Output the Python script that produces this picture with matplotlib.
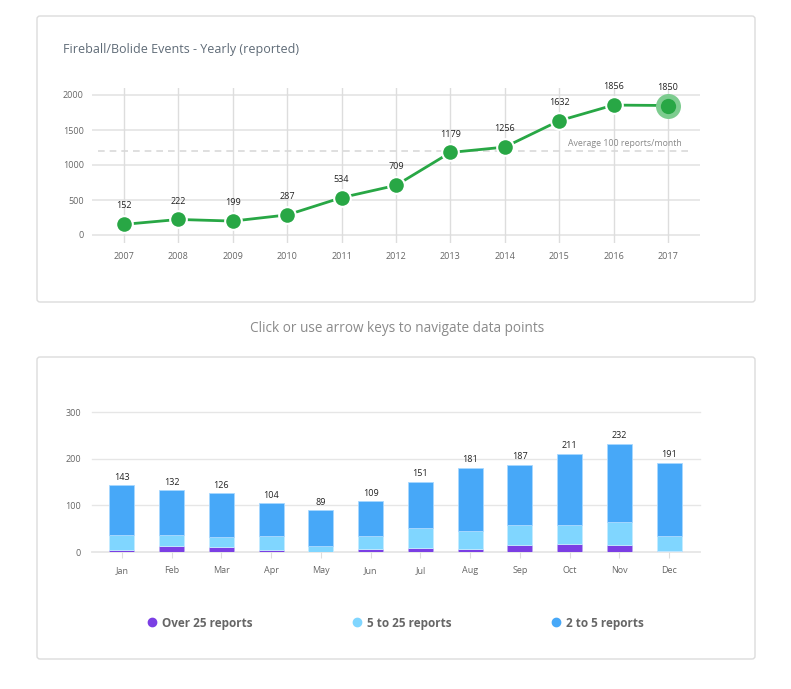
import numpy as np
import matplotlib
matplotlib.use("Agg")
import matplotlib.pyplot as plt
from matplotlib.patches import FancyBboxPatch
from matplotlib.lines import Line2D

plt.rcParams['font.family'] = ['Open Sans', 'DejaVu Sans']

# yearly data
years = [2007, 2008, 2009, 2010, 2011, 2012, 2013, 2014, 2015, 2016, 2017]
yearly = [152, 222, 199, 287, 534, 709, 1179, 1256, 1632, 1856, 1850]
avg_level = 1200

# monthly data (stacked)
months = ["Jan", "Feb", "Mar", "Apr", "May", "Jun", "Jul", "Aug", "Sep", "Oct", "Nov", "Dec"]
over25 = [4, 13, 11, 5, 1, 6, 9, 7, 14, 17, 16, 2]
mid5to25 = [33, 24, 21, 29, 12, 28, 43, 38, 44, 40, 49, 33]
low2to5 = [106, 95, 94, 70, 76, 75, 99, 136, 129, 154, 167, 156]
series_labels = ["Over 25 reports", "5 to 25 reports", "2 to 5 reports"]

W, H = 791, 689
fig = plt.figure(figsize=(W / 100, H / 100), dpi=100)


def fbox(x0, y0, x1, y1):
    # pixel box (top-left origin) -> figure fraction [l, b, w, h]
    return [x0 / W, 1 - y1 / H, (x1 - x0) / W, (y1 - y0) / H]


# cards
for (x0, y0, x1, y1) in [(37, 16, 755, 302), (37, 357, 755, 659)]:
    l, b, w, h = fbox(x0, y0, x1, y1)
    fig.patches.append(FancyBboxPatch((l, b), w, h, boxstyle="round,pad=0,rounding_size=0.004",
                                      transform=fig.transFigure, fill=False,
                                      edgecolor="#dcdcdc", linewidth=1))

grey_txt = "#666666"
grid_c = "#e6e6e6"
green = "#28a745"

# ---- top chart ----
ax1 = fig.add_axes(fbox(92, 88, 700, 243.4))
ax1.set_xlim(2006.41, 2017.59)
ax1.set_ylim(-120, 2100)
for s in ax1.spines.values():
    s.set_visible(False)
for yv in [0, 500, 1000, 1500, 2000]:
    ax1.axhline(yv, color=grid_c, lw=1.3, zorder=0)
for xv in years:
    ax1.axvline(xv, color="#dddddd", lw=1, zorder=0)
ax1.axhline(avg_level, xmin=0.01, xmax=0.985, color="#d9d9d9", lw=1.2, ls=(0, (4, 3)), zorder=1)
ax1.text(2016.2, avg_level + 40, "Average 100 reports/month", fontsize=6.3, color="#888888",
         ha="center", va="bottom")
ax1.plot(years, yearly, '-', color=green, lw=2, zorder=2)
ax1.plot(years, yearly, 'o', color=green, markersize=12, mec="white", mew=1.5, zorder=4)
# highlighted (selected) point
ax1.plot(years[-1:], yearly[-1:], 'o', color="#7dcc8f", markersize=18, mec="none", zorder=5)
ax1.plot(years[-1:], yearly[-1:], 'o', color=green, markersize=11, mec="none", zorder=6)
for xv, yv in zip(years, yearly):
    ax1.annotate(str(yv), (xv, yv), xytext=(0, 10), textcoords="offset points",
                 ha="center", va="bottom", fontsize=6.5, color="#222222")
ax1.set_xticks(years)
ax1.set_xticklabels([str(y) for y in years])
ax1.set_yticks([0, 500, 1000, 1500, 2000])
ax1.tick_params(length=0, labelsize=6.5, labelcolor=grey_txt, pad=6)
fig.text(63 / W, 1 - 49 / H, "Fireball/Bolide Events - Yearly (reported)", fontsize=9,
         color="#5f6b77", ha="left", va="center")

fig.text(397 / W, 1 - 329 / H, "Click or use arrow keys to navigate data points", fontsize=9.8,
         color="#8a8a8a", ha="center", va="center")

# ---- bottom chart ----
ax2 = fig.add_axes(fbox(92, 409.7, 700, 552))
x = np.arange(len(months))
ax2.set_xlim(-0.6, 11.62)
ax2.set_ylim(0, 305)
for s in ax2.spines.values():
    s.set_visible(False)
for yv in [0, 100, 200, 300]:
    ax2.axhline(yv, color=grid_c, lw=1.3 if yv == 0 else 1, zorder=0, clip_on=False)
c_over, c_mid, c_low = "#7b3fe4", "#80d6ff", "#47a8f8"
bw = 0.5
b1 = np.array(over25)
b2 = b1 + np.array(mid5to25)
ax2.bar(x, over25, bw, color=c_over, edgecolor="#b9a6f0", lw=0.6, zorder=2)
ax2.bar(x, mid5to25, bw, bottom=b1, color=c_mid, edgecolor="#c4ecff", lw=0.6, zorder=2)
ax2.bar(x, low2to5, bw, bottom=b2, color=c_low, edgecolor="#a9d8ff", lw=0.6, zorder=2)
totals = b2 + np.array(low2to5)
for xi, t in zip(x, totals):
    ax2.annotate(str(t), (xi, t), xytext=(0, 2.5), textcoords="offset points",
                 ha="center", va="bottom", fontsize=6.5, color="#222222")
ax2.set_xticks(x)
ax2.set_xticklabels(months)
ax2.set_yticks([0, 100, 200, 300])
ax2.tick_params(axis='x', length=4, color="#dddddd", labelsize=6.5, labelcolor=grey_txt, pad=6)
ax2.tick_params(axis='y', length=0, labelsize=6.5, labelcolor=grey_txt, pad=8)

handles = [Line2D([], [], marker='o', ls='none', color=c, markersize=6) for c in (c_over, c_mid, c_low)]
leg = fig.legend(handles, series_labels, loc="center", bbox_to_anchor=(395 / W, 1 - 623 / H),
                 ncol=3, frameon=False, columnspacing=8.4, handletextpad=0.3, handlelength=1,
                 prop={'size': 8.5, 'weight': 'bold'})
for t in leg.get_texts():
    t.set_color("#666666")

fig.savefig("out.png", dpi=100, facecolor="white")
